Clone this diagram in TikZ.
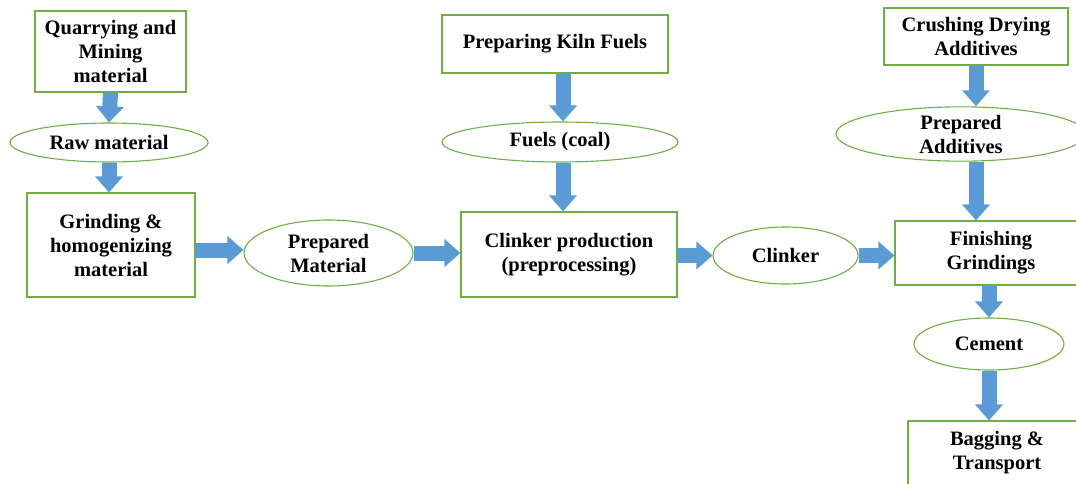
\documentclass[tikz,border=0pt]{standalone}
\usepackage{fontspec}
\setmainfont{Liberation Serif}
\usetikzlibrary{arrows.meta,shapes.geometric}
\definecolor{boxgreen}{RGB}{112,173,71}
\definecolor{arrowblue}{RGB}{91,155,213}
\tikzset{
  box/.style={draw=boxgreen, line width=1.1pt, rectangle, align=center, inner sep=0pt, font=\fontsize{20.5}{24}\selectfont\bfseries},
  oval/.style={draw=boxgreen, line width=1.1pt, ellipse, align=center, inner sep=0pt, font=\fontsize{20.5}{24}\selectfont\bfseries},
  barrow/.style={draw=arrowblue, line width=15pt, -{Triangle[width=27pt,length=16pt]}, arrowblue}
}
\begin{document}
\begin{tikzpicture}[x=1pt,y=-1pt]
\path[use as bounding box] (0,0) rectangle (1076,484);
\begin{scope}
\clip (0,0) rectangle (1076,484);
% nodes
\node[box, minimum width=151pt, minimum height=81pt] (q) at (110.5,51.5) {Quarrying and\\Mining\\material};
\node[oval, minimum width=198pt, minimum height=39pt] (raw) at (109,142.5) {Raw material};
\node[box, minimum width=168pt, minimum height=104pt] (grind) at (111,245) {Grinding \&\\homogenizing\\material};
\node[oval, minimum width=169pt, minimum height=66pt] (prep) at (328.5,253) {Prepared\\Material};
\node[box, minimum width=216pt, minimum height=85pt] (clink) at (569,254.5) {Clinker production\\(preprocessing)};
\node[box, minimum width=226pt, minimum height=58pt] (kiln) at (555,44) {Preparing Kiln Fuels};
\node[oval, minimum width=236pt, minimum height=40pt] (fuels) at (560,142) {Fuels (coal)};
\node[oval, minimum width=145pt, minimum height=57pt] (clinker) at (785.5,255.5) {Clinker};
\node[box, minimum width=192pt, minimum height=64pt] (fin) at (991,253) {Finishing\\Grindings};
\node[box, minimum width=184pt, minimum height=57pt] (crush) at (976,36.5) {Crushing Drying\\Additives};
\node[oval, minimum width=250pt, minimum height=52pt] (padd) at (961,134) {Prepared\\Additives};
\node[oval, minimum width=150pt, minimum height=52pt] (cement) at (989,344) {Cement};
\node[box, minimum width=178pt, minimum height=80pt, text depth=0pt] (bag) at (997,461) {};
\node[font=\fontsize{20.5}{24}\selectfont\bfseries, align=center] (bagtext) at (997,453) {Bagging \&\\Transport};
% arrows
\draw[barrow] (q.south) -- (raw.north);
\draw[barrow] (raw.south) -- (raw.south |- grind.north);
\draw[barrow] (grind.east |- 0,250) -- (prep.west |- 0,250);
\draw[barrow] (prep.east) -- (prep.east -| clink.west);
\draw[barrow] (clink.east |- clinker.west) -- (clinker.west);
\draw[barrow] (clinker.east) -- (clinker.east -| fin.west);
\draw[barrow] ([xshift=8pt]kiln.south) -- ([xshift=8pt]kiln.south |- fuels.north);
\draw[barrow] ([xshift=3pt]fuels.south) -- ([xshift=3pt]fuels.south |- clink.north);
\draw[barrow] (crush.south) -- (crush.south |- padd.north);
\draw[barrow] (crush.south |- padd.south) -- (crush.south |- fin.north);
\draw[barrow] (fin.south -| cement.north) -- (cement.north);
\draw[barrow] (cement.south) -- (cement.south |- bag.north);
\end{scope}
\end{tikzpicture}
\end{document}
